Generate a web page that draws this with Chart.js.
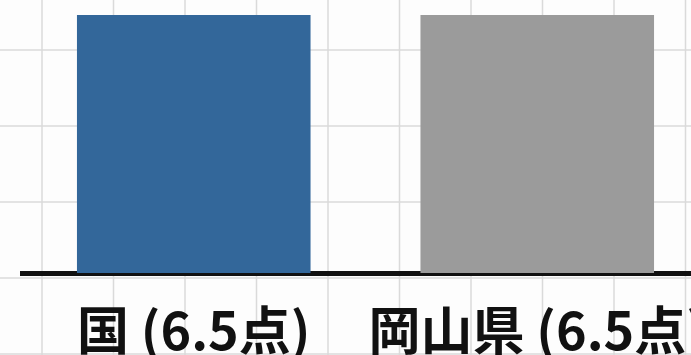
<!DOCTYPE html>
<html>
<head>
<meta charset="utf-8">
<script src="https://cdn.jsdelivr.net/npm/chart.js@4"></script>
<style>
  html, body { margin: 0; padding: 0; overflow: hidden; background: #fdfdfd; width: 691px; height: 355px; }
  #wrap { position: absolute; left: 0; top: 0; width: 712px; height: 395px; }
</style>
</head>
<body>
<div id="wrap"><canvas id="chart"></canvas></div>
<script>
const categories = ['国 (6.5点)', '岡山県 (6.5点)'];
const scores = [6.5, 6.5];
const barColors = ['#33679a', '#9b9b9b'];

// graph-paper background behind everything
const paperGrid = {
  id: 'paperGrid',
  beforeDraw(chart) {
    const ctx = chart.ctx;
    ctx.save();
    ctx.strokeStyle = '#dadada';
    ctx.lineWidth = 1.5;
    ctx.beginPath();
    for (let x = 42; x < chart.width; x += 71.5) {
      ctx.moveTo(x, 0);
      ctx.lineTo(x, chart.height);
    }
    for (let y = 50; y < chart.height; y += 76) {
      ctx.moveTo(0, y);
      ctx.lineTo(chart.width, y);
    }
    ctx.stroke();
    ctx.restore();
  }
};

const ctx = document.getElementById('chart').getContext('2d');
new Chart(ctx, {
  type: 'bar',
  data: {
    labels: categories,
    datasets: [{
      data: scores,
      backgroundColor: barColors,
      borderWidth: 0,
      categoryPercentage: 0.68,
      barPercentage: 1
    }]
  },
  options: {
    responsive: true,
    maintainAspectRatio: false,
    animation: false,
    layout: { padding: { left: 22, right: 3, top: 0, bottom: 0 } },
    plugins: {
      legend: { display: false },
      tooltip: { enabled: false }
    },
    scales: {
      x: {
        grid: { display: false },
        border: { color: '#111111', width: 5 },
        ticks: {
          color: '#111111',
          padding: 18,
          font: { family: '"Noto Sans CJK JP", "Noto Sans", sans-serif', size: 52, weight: 'bold' }
        },
        afterFit(scale) {
          // labels run off the edge in the original, so no extra side padding
          scale.height = 122;
          scale.paddingLeft = 0;
          scale.paddingRight = 0;
        }
      },
      y: {
        display: false,
        min: 0,
        max: 6.88
      }
    }
  },
  plugins: [paperGrid]
});
</script>
</body>
</html>
